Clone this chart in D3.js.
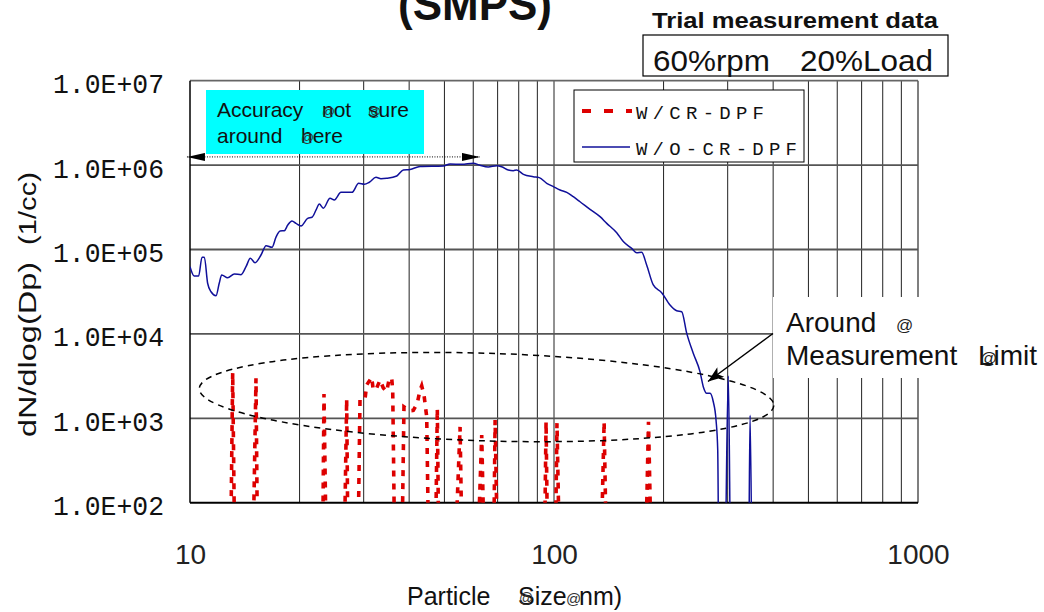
<!DOCTYPE html>
<html>
<head>
<meta charset="utf-8">
<script src="https://cdn.jsdelivr.net/npm/d3@7"></script>
<style>
  body { margin: 0; background: #fff; }
  text { font-family: "Liberation Sans", Arial, sans-serif; }
  .mono { font-family: "Liberation Mono", "Courier New", monospace; }
</style>
</head>
<body>
<svg id="chart" width="1044" height="612"></svg>
<script>
// SMPS size distribution, dN/dlog(Dp) per particle size (nm)
// W/O-CR-DPF (engine out, blue solid)
const sizesWithout = [10.0, 10.27, 10.56, 10.79, 10.95, 11.18, 11.42, 11.79, 12.03, 12.22,
  12.69, 13.24, 13.81, 14.25, 14.65, 15.09, 15.67, 16.18, 16.80, 17.23,
  17.68, 18.16, 18.56, 19.06, 19.55, 20.18, 21.05, 21.64, 22.20, 22.66,
  23.24, 24.25, 24.92, 25.99, 27.87, 29.07, 30.12, 31.09, 32.43, 33.47,
  34.70, 36.98, 38.55, 40.22, 42.84, 49.65, 51.8, 55.77, 60.0, 62.6,
  66.0, 69.6, 71.8, 74.9, 77.3, 79.0, 82.4, 87.7, 91.1, 95.5,
  99.6, 103.9, 108.4, 113.0, 117.9, 125.6, 133.8, 139.6, 148.7, 155.0,
  163.5, 168.7, 174.1, 179.7, 187.4, 197.6, 208.3, 217.3, 224.3, 231.5,
  241.3, 251.8, 257.1, 262.7, 268.3, 273.9, 278.7, 281.7, 284.1, 294.0,
  301.2, 306.4, 342.0, 345.7, 349.9];
const countsWithout = [6.25e4, 4.85e4, 4.85e4, 8.1e4, 8.1e4, 3.98e4, 3.16e4, 2.84e4, 3.98e4, 4.99e4,
  4.63e4, 5.13e4, 5.03e4, 6.25e4, 7.87e4, 6.98e4, 8.61e4, 1.11e5, 1.06e5, 1.40e5,
  1.66e5, 1.67e5, 1.95e5, 2.18e5, 2.04e5, 1.90e5, 2.34e5, 2.41e5, 2.94e5, 3.46e5,
  3.08e5, 4.04e5, 3.86e5, 4.76e5, 4.76e5, 6.09e5, 5.93e5, 6.26e5, 7.17e5, 6.90e5,
  6.98e5, 7.43e5, 8.75e5, 8.87e5, 9.62e5, 9.76e5, 1.03e6, 1.02e6, 1.05e6, 9.95e5,
  9.50e5, 9.84e5, 9.57e5, 8.75e5, 8.59e5, 8.75e5, 7.78e5, 7.29e5, 7.10e5, 6.09e5,
  5.55e5, 5.07e5, 4.76e5, 4.22e5, 3.68e5, 2.99e5, 2.45e5, 2.04e5, 1.58e5, 1.24e5,
  1.03e5, 9.16e4, 9.27e4, 6.55e4, 3.80e4, 3.08e4, 2.20e4, 1.88e4, 1.83e4, 1.02e4,
  5890, 3570, 2370, 1980, 1980, 1570, 955, 421, 0, 0,
  3170, 0, 0, 1090, 0];

// W/CR-DPF (after filter, red dashed): mostly zero counts with isolated channels
const sizesWith = [12.90, 13.10, 13.30, 14.85, 15.18, 15.36, 23.10, 23.34, 23.75, 26.45,
  26.94, 27.22, 28.85, 29.31, 30.25, 30.57, 31.56, 31.88, 32.58, 33.27,
  33.97, 34.70, 35.28, 35.82, 36.05, 36.60, 38.10, 38.71, 40.22, 41.07,
  42.12, 42.84, 43.30, 43.94, 44.70, 45.40, 47.10, 47.80, 48.35, 53.1,
  55.2, 56.1, 61.3, 63.3, 64.6, 68.1, 68.9, 70.2, 93.9, 95.1,
  96.3, 100.6, 101.9, 103.9, 134.1, 137.3, 139.8, 177.8, 181.8, 185.8];
const countsWith = [0, 3470, 0, 0, 2980, 0, 0, 1940, 0, 0,
  1690, 0, 0, 1650, 1680, 2480, 3060, 2160, 2290, 2840,
  2290, 2070, 2980, 2980, 2160, 0, 0, 1370, 1230, 1240,
  1510, 2160, 2430, 1890, 1040, 0, 0, 1310, 0, 0,
  790, 0, 0, 634, 0, 0, 955, 0, 0, 912,
  0, 0, 880, 0, 0, 912, 0, 0, 912, 0];

const seriesNames = ["W/CR-DPF", "W/O-CR-DPF"];
const xTickValues = [10, 100, 1000];
const xTickLabels = ["10", "100", "1000"];
const yTickValues = [1e2, 1e3, 1e4, 1e5, 1e6, 1e7];
const yTickLabels = ["1.0E+02", "1.0E+03", "1.0E+04", "1.0E+05", "1.0E+06", "1.0E+07"];

const W = 1044, H = 612;
const plot = { left: 190, right: 918, top: 80.7, bottom: 502.7 };
const floorValue = 10; // zero counts are drawn below the axis floor

const svg = d3.select("#chart");
svg.append("rect").attr("width", W).attr("height", H).attr("fill", "#fff");

const x = d3.scaleLog().domain([10, 1000]).range([plot.left, plot.right]);
const y = d3.scaleLog().domain([1e2, 1e7]).range([plot.bottom, plot.top]);

// grid
const grid = svg.append("g");
x.ticks().filter(t => t > 10 && t < 1000).forEach(t => {
  grid.append("line").attr("x1", x(t)).attr("x2", x(t))
    .attr("y1", plot.top).attr("y2", plot.bottom)
    .attr("stroke", "#222").attr("stroke-width", 1);
});
yTickValues.filter(v => v > 1e2 && v < 1e7).forEach(v => {
  grid.append("line").attr("x1", plot.left).attr("x2", plot.right)
    .attr("y1", y(v)).attr("y2", y(v))
    .attr("stroke", "#555").attr("stroke-width", 1.8);
});
// frame
grid.append("line").attr("x1", plot.left).attr("x2", plot.right).attr("y1", plot.top).attr("y2", plot.top)
  .attr("stroke", "#666").attr("stroke-width", 1.8);
grid.append("line").attr("x1", plot.right).attr("x2", plot.right).attr("y1", plot.top).attr("y2", plot.bottom)
  .attr("stroke", "#555").attr("stroke-width", 1.5);
grid.append("line").attr("x1", plot.left).attr("x2", plot.left).attr("y1", plot.top).attr("y2", plot.bottom)
  .attr("stroke", "#000").attr("stroke-width", 1.5);
grid.append("line").attr("x1", plot.left).attr("x2", plot.right).attr("y1", plot.bottom).attr("y2", plot.bottom)
  .attr("stroke", "#000").attr("stroke-width", 2);

// axes labels
const yAxis = d3.axisLeft(y).tickValues(yTickValues).tickSize(0)
  .tickFormat((d, i) => yTickLabels[i]);
const gy = svg.append("g").attr("transform", `translate(${plot.left},0)`).call(yAxis);
gy.select(".domain").remove();
gy.selectAll("text").attr("class", "mono")
  .attr("x", -26).attr("dy", 12).attr("fill", "#111")
  .style("font-size", "27px")
  .attr("textLength", 111).attr("lengthAdjust", "spacingAndGlyphs");

const xAxis = d3.axisBottom(x).tickValues(xTickValues).tickSize(0)
  .tickFormat((d, i) => xTickLabels[i]);
const gx = svg.append("g").attr("transform", `translate(0,${plot.bottom})`).call(xAxis);
gx.select(".domain").remove();
gx.selectAll("text").attr("y", 0).attr("dy", 61).attr("fill", "#222")
  .style("font-size", "28px").style("font-family", "'Liberation Sans', Arial, sans-serif");

// clip for series
svg.append("clipPath").attr("id", "plotClip").append("rect")
  .attr("x", plot.left).attr("y", plot.top)
  .attr("width", plot.right - plot.left).attr("height", plot.bottom - plot.top);

const line = d3.line()
  .x(d => x(d[0]))
  .y(d => y(Math.max(d[1], floorValue)));

const seriesG = svg.append("g").attr("clip-path", "url(#plotClip)");
seriesG.append("path")
  .datum(d3.zip(sizesWithout, countsWithout))
  .attr("d", line.curve(d3.curveMonotoneX))
  .attr("fill", "none").attr("stroke", "#10109a").attr("stroke-width", 1.5);
seriesG.append("path")
  .datum(d3.zip(sizesWith, countsWith))
  .attr("d", line.curve(d3.curveLinear))
  .attr("fill", "none").attr("stroke", "#dd0000").attr("stroke-width", 3.6)
  .attr("stroke-dasharray", "6,7");

// dashed ellipse round the measurement-floor region
const ellLeft = x(10.6), ellRight = x(402);
const ellTop = y(5900), ellBottom = y(540);
svg.append("ellipse")
  .attr("cx", (ellLeft + ellRight) / 2).attr("cy", (ellTop + ellBottom) / 2)
  .attr("rx", (ellRight - ellLeft) / 2).attr("ry", (ellBottom - ellTop) / 2)
  .attr("transform", `rotate(1.7 ${(ellLeft + ellRight) / 2} ${(ellTop + ellBottom) / 2})`)
  .attr("fill", "none").attr("stroke", "#000").attr("stroke-width", 1.5)
  .attr("stroke-dasharray", "6,5");

// arrowheads
const defs = svg.append("defs");
defs.append("marker").attr("id", "tri").attr("viewBox", "0 0 18 8")
  .attr("refX", 18).attr("refY", 4).attr("markerWidth", 18).attr("markerHeight", 8)
  .attr("markerUnits", "userSpaceOnUse").attr("orient", "auto-start-reverse")
  .append("path").attr("d", "M0,0 L18,4 L0,8 Z").attr("fill", "#000");
defs.append("marker").attr("id", "tri2").attr("viewBox", "0 0 16 12")
  .attr("refX", 16).attr("refY", 6).attr("markerWidth", 16).attr("markerHeight", 12)
  .attr("markerUnits", "userSpaceOnUse").attr("orient", "auto")
  .append("path").attr("d", "M0,0 L16,6 L0,12 L4,6 Z").attr("fill", "#000");

// "Accuracy not sure around here" box and range arrow
svg.append("rect").attr("x", 206).attr("y", 90).attr("width", 218).attr("height", 64).attr("fill", "#00ffff");
const acc = svg.append("g").attr("fill", "#111").style("font-size", "21px");
acc.append("text").attr("x", 217).attr("y", 117).text("Accuracy");
acc.append("text").attr("x", 322).attr("y", 117).text("not");
acc.append("text").attr("x", 368).attr("y", 117).text("sure");
acc.append("text").attr("x", 217).attr("y", 143).text("around");
acc.append("text").attr("x", 301).attr("y", 143).text("here");
const accMarks = svg.append("g").attr("fill", "#333").style("font-size", "13px");
accMarks.append("text").attr("x", 322).attr("y", 116).text("@");
accMarks.append("text").attr("x", 368).attr("y", 116).text("@");
accMarks.append("text").attr("x", 301).attr("y", 142).text("@");

svg.append("line")
  .attr("x1", x(9.81)).attr("x2", x(62.6)).attr("y1", y(1.25e6)).attr("y2", y(1.25e6))
  .attr("stroke", "#000").attr("stroke-width", 1).attr("stroke-dasharray", "1,1.5")
  .attr("marker-start", "url(#tri)").attr("marker-end", "url(#tri)");

// legend
const lg = svg.append("g");
lg.append("rect").attr("x", 574).attr("y", 90).attr("width", 230).attr("height", 72)
  .attr("fill", "#fff").attr("stroke", "#000").attr("stroke-width", 1);
lg.append("line").attr("x1", 582).attr("x2", 632).attr("y1", 111).attr("y2", 111)
  .attr("stroke", "#dd0000").attr("stroke-width", 4).attr("stroke-dasharray", "9,13");
lg.append("line").attr("x1", 582).attr("x2", 630).attr("y1", 147).attr("y2", 147)
  .attr("stroke", "#10109a").attr("stroke-width", 1.3);
lg.append("text").attr("class", "mono").attr("x", 636).attr("y", 118.5)
  .style("font-size", "19px").attr("fill", "#111")
  .attr("textLength", 128).attr("lengthAdjust", "spacing").text(seriesNames[0]);
lg.append("text").attr("class", "mono").attr("x", 636).attr("y", 154.5)
  .style("font-size", "19px").attr("fill", "#111")
  .attr("textLength", 161).attr("lengthAdjust", "spacing").text(seriesNames[1]);

// measurement-limit note
svg.append("rect").attr("x", 773).attr("y", 297).attr("width", W - 773).attr("height", 81).attr("fill", "#fff");
const note = svg.append("g").attr("fill", "#111").style("font-size", "28px");
note.append("text").attr("x", 786).attr("y", 332).text("Around");
note.append("text").attr("x", 786).attr("y", 365).text("Measurement");
note.append("text").attr("x", 978).attr("y", 365).text("Limit");
svg.append("text").attr("x", 896).attr("y", 331).attr("fill", "#222").style("font-size", "17px").text("@");
svg.append("text").attr("x", 980).attr("y", 364).attr("fill", "#222").style("font-size", "17px").text("@");
svg.append("line").attr("x1", 773).attr("y1", 333.5).attr("x2", 708).attr("y2", 381.5)
  .attr("stroke", "#000").attr("stroke-width", 1.5).attr("marker-end", "url(#tri2)");

// title block
svg.append("text").attr("x", 475).attr("y", 20).attr("text-anchor", "middle")
  .style("font-size", "46px").style("font-weight", "bold").attr("fill", "#111")
  .attr("textLength", 154).attr("lengthAdjust", "spacingAndGlyphs").text("(SMPS)");
svg.append("text").attr("x", 652).attr("y", 28)
  .style("font-size", "22px").style("font-weight", "bold").attr("fill", "#111")
  .attr("textLength", 286).attr("lengthAdjust", "spacingAndGlyphs").text("Trial measurement  data");
svg.append("rect").attr("x", 643).attr("y", 35).attr("width", 305).attr("height", 41)
  .attr("fill", "#fff").attr("stroke", "#000").attr("stroke-width", 1.2);
svg.append("text").attr("x", 653).attr("y", 71).style("font-size", "30px").attr("fill", "#111")
  .attr("textLength", 117).attr("lengthAdjust", "spacingAndGlyphs").text("60%rpm");
svg.append("text").attr("x", 800).attr("y", 71).style("font-size", "30px").attr("fill", "#111")
  .attr("textLength", 133).attr("lengthAdjust", "spacingAndGlyphs").text("20%Load");

// axis titles
const xt = svg.append("g").attr("fill", "#111").style("font-size", "25px");
xt.append("text").attr("x", 407).attr("y", 605).text("Particle");
xt.append("text").attr("x", 518).attr("y", 605).text("Size");
xt.append("text").attr("x", 579).attr("y", 605).text("nm)");
svg.append("text").attr("x", 519).attr("y", 603).style("font-size", "14px").attr("fill", "#333").text("@");
svg.append("text").attr("x", 566).attr("y", 604).style("font-size", "15px").attr("fill", "#333").text("@");

svg.append("text").attr("transform", "translate(36,349.5) rotate(-90)").attr("text-anchor", "middle")
  .style("font-size", "23px").attr("fill", "#111")
  .attr("textLength", 175).attr("lengthAdjust", "spacingAndGlyphs").text("dN/dlog(Dp)");
svg.append("text").attr("transform", "translate(36,208.5) rotate(-90)").attr("text-anchor", "middle")
  .style("font-size", "23px").attr("fill", "#111")
  .attr("textLength", 73).attr("lengthAdjust", "spacingAndGlyphs").text("(1/cc)");
</script>
</body>
</html>
